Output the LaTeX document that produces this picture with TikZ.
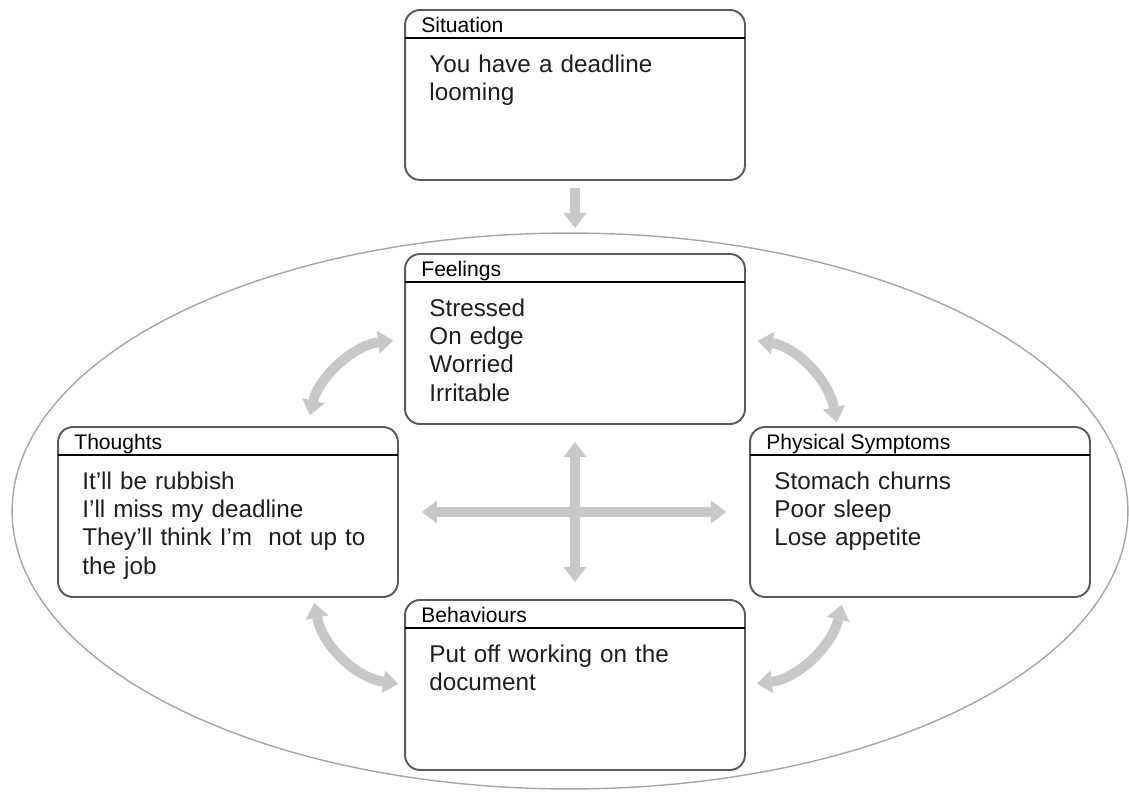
\documentclass[tikz,border=0pt]{standalone}
\usepackage{fontspec}
\setmainfont{Liberation Sans}
\usetikzlibrary{arrows.meta}

\definecolor{boxgrey}{HTML}{5A5A5A}
\definecolor{ringgrey}{HTML}{A6A6A6}
\definecolor{arrowgrey}{HTML}{C8C8C8}
\definecolor{textgrey}{HTML}{1E1E1E}

\tikzset{
  panel/.style={draw=boxgrey, line width=1.1pt, rounded corners=0.3cm,
    minimum width=6.8cm, minimum height=3.4cm, inner sep=0pt, outer sep=0pt},
  hdrline/.style={draw=black, line width=0.8pt},
  hdrtext/.style={inner sep=0pt, text=black, font=\fontsize{12}{14}\selectfont},
  bodytext/.style={inner sep=0pt, text=textgrey, text width=6cm, align=left,
    font=\fontsize{13.8}{16.2}\selectfont},
  fatline/.style={draw=arrowgrey, line width=0.2cm},
  ring/.style={draw=ringgrey, line width=0.8pt}
}

% box with a title bar: name, centre, title, body
\newcommand{\cbtpanel}[4]{%
  \node[panel] (#1) at (#2) {};
  \draw[hdrline] ([shift={(0,28)}]#1.north west) -- ([shift={(0,28)}]#1.north east);
  \node[hdrtext, anchor=base west] (#1-title) at ([shift={(16,22)}]#1.north west) {#3};
  \node[bodytext, anchor=base west] (#1-body) at ([shift={(24,62)}]#1.north west) {#4};
}

\begin{document}
\begin{tikzpicture}[x=0.02cm, y=-0.02cm,
  >={Triangle[width=0.46cm, length=0.3cm, line width=0pt]}]
\useasboundingbox (0,0) rectangle (1129,794);

\draw[ring] (570,511) ellipse [x radius=11.16cm, y radius=5.56cm];

\cbtpanel{sit}{575,95}{Situation}{You have a deadline\\looming}
\cbtpanel{feel}{575,339}{Feelings}{Stressed\\On edge\\Worried\\Irritable}
\cbtpanel{thou}{228,512}{Thoughts}{It’ll be rubbish\\I’ll miss my deadline\\They’ll think I’m\ \ not up to\\the job}
\cbtpanel{phys}{920,512}{Physical Symptoms}{Stomach churns\\Poor sleep\\Lose appetite}
\cbtpanel{beh}{575,685}{Behaviours}{Put off working on the\\document}

\coordinate (ringtop) at (575,233);
\draw[fatline, ->, shorten <=0.16cm, shorten >=0.1cm] (sit) -- (ringtop);

% the cross in the middle
\draw[fatline, <->, shorten <=0.36cm, shorten >=0.36cm] (feel) -- (beh);
\draw[fatline, <->, shorten <=0.48cm, shorten >=0.48cm] (thou) -- (phys);

% the cycle round the outside
\draw[fatline, <->, shorten <=0.24cm, shorten >=0.24cm] (thou.47) to[bend left=35] (feel.west);
\draw[fatline, <->, shorten <=0.26cm, shorten >=0.1cm] (feel.east) to[bend left=35] (phys.134);
\draw[fatline, <->, shorten <=0.16cm, shorten >=0.24cm] (phys.228) to[bend left=35] (beh.east);
\draw[fatline, <->, shorten <=0.14cm, shorten >=0.12cm] (beh.west) to[bend left=35] (thou.-45);

\end{tikzpicture}
\end{document}
